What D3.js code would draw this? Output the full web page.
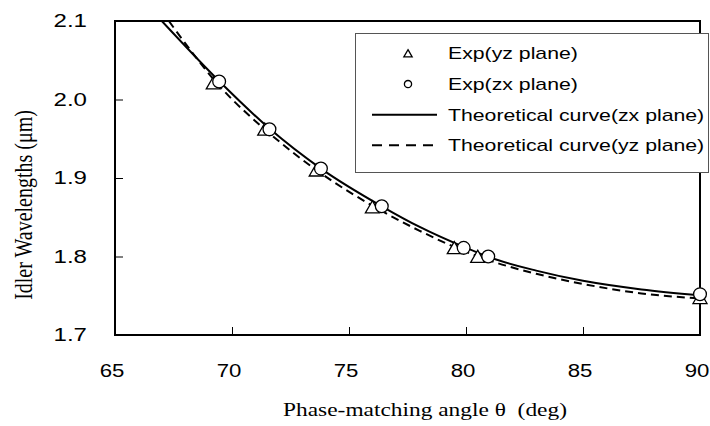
<!DOCTYPE html>
<html>
<head>
<meta charset="utf-8">
<script src="https://cdn.jsdelivr.net/npm/d3@7"></script>
<style>
  body { margin: 0; background: #fff; }
  text { fill: #000; }
</style>
</head>
<body>
<svg width="710" height="426"></svg>
<script>
// measured data (deg, um)
var yzAngle = [69.2, 71.4, 73.6, 76.0, 79.5, 80.5, 90.0];
var yzWave  = [2.020, 1.961, 1.909, 1.862, 1.810, 1.799, 1.7465];
var zxAngle = [69.45, 71.6, 73.8, 76.4, 79.9, 80.95, 90.0];
var zxWave  = [2.023, 1.962, 1.912, 1.864, 1.811, 1.800, 1.752];

// theoretical curves
var zxCurveAngle = [67.0, 69.5, 71.6, 73.8, 76.4, 78.0, 80.0, 81.0, 83.0, 85.0, 87.5, 90.0];
var zxCurveWave  = [2.100, 2.022, 1.963, 1.912, 1.864, 1.838, 1.811, 1.799, 1.782, 1.769, 1.758, 1.7505];
var yzCurveAngle = [67.3, 69.5, 71.6, 73.8, 76.4, 78.0, 80.0, 81.0, 83.0, 85.0, 87.5, 90.0];
var yzCurveWave  = [2.100, 2.016, 1.957, 1.906, 1.858, 1.833, 1.806, 1.795, 1.778, 1.765, 1.753, 1.7465];

var xTicks = [65, 70, 75, 80, 85, 90];
var yTicks = [1.7, 1.8, 1.9, 2.0, 2.1];

var legendItems = [
    {label: "Exp(yz plane)", type: "tri"},
    {label: "Exp(zx plane)", type: "circ"},
    {label: "Theoretical curve(zx plane)", type: "solid"},
    {label: "Theoretical curve(yz plane)", type: "dash"}
];

// the source picture is stretched sideways, text too
var sx = 1.3;
var sans = "Liberation Sans, Arial, sans-serif",
    serif = "Liberation Serif, Times New Roman, serif";

var svg = d3.select("svg"),
    margin = {left: 115, right: 10, top: 21, bottom: 91},
    width = 710 - margin.left - margin.right,
    height = 426 - margin.top - margin.bottom;

var x = d3.scaleLinear().domain([65, 90]).range([margin.left, margin.left + width]);
var y = d3.scaleLinear().domain([1.7, 2.1]).range([margin.top + height, margin.top]);

var g = svg.append("g");

svg.append("defs").append("clipPath").attr("id", "plot")
    .append("rect")
    .attr("x", margin.left).attr("y", margin.top)
    .attr("width", width).attr("height", height);

// axes, inward ticks
var xAxis = d3.axisBottom(x).tickValues(xTicks).tickSizeInner(-8).tickSizeOuter(0).tickPadding(29);
var yAxis = d3.axisLeft(y).tickValues(yTicks).tickSizeInner(-8).tickSizeOuter(0)
    .tickFormat(d3.format(".1f"));

var gx = g.append("g").attr("transform", "translate(0," + (margin.top + height) + ")").call(xAxis);
var gy = g.append("g").attr("transform", "translate(" + margin.left + ",0)").call(yAxis);

[gx, gy].forEach(function (a) {
    a.select(".domain").remove();
    a.selectAll("line").attr("stroke", "#000").attr("stroke-width", 1);
    a.selectAll("text")
        .style("font-family", sans)
        .style("font-size", "18.5px")
        .attr("fill", "#000");
});
gx.selectAll("text").attr("transform", "translate(-3.5,0) scale(1.2,1)");
gy.selectAll("text").attr("x", 0).attr("transform", "translate(-28,0) scale(" + sx + ",1)");

// frame
g.append("rect")
    .attr("x", margin.left).attr("y", margin.top)
    .attr("width", width).attr("height", height)
    .attr("fill", "none").attr("stroke", "#000").attr("stroke-width", 2);

var line = d3.line()
    .x(function (d) { return x(d[0]); })
    .y(function (d) { return y(d[1]); })
    .curve(d3.curveMonotoneX);

var plot = g.append("g").attr("clip-path", "url(#plot)");

plot.append("path")
    .datum(d3.zip(yzCurveAngle, yzCurveWave))
    .attr("d", line)
    .attr("fill", "none").attr("stroke", "#000").attr("stroke-width", 2)
    .attr("stroke-dasharray", "8,5");

plot.append("path")
    .datum(d3.zip(zxCurveAngle, zxCurveWave))
    .attr("d", line)
    .attr("fill", "none").attr("stroke", "#000").attr("stroke-width", 2);

var tri = d3.symbol().type(d3.symbolTriangle).size(85);

g.append("g").selectAll("path")
    .data(d3.zip(yzAngle, yzWave))
    .enter().append("path")
    .attr("d", tri)
    .attr("transform", function (d) { return "translate(" + x(d[0]) + "," + (y(d[1]) + 1) + ")"; })
    .attr("fill", "#fff").attr("stroke", "#000").attr("stroke-width", 1.3);

g.append("g").selectAll("circle")
    .data(d3.zip(zxAngle, zxWave))
    .enter().append("circle")
    .attr("cx", function (d) { return x(d[0]); })
    .attr("cy", function (d) { return y(d[1]); })
    .attr("r", 6.4)
    .attr("fill", "#fff").attr("stroke", "#000").attr("stroke-width", 1.3);

// legend
var lg = svg.append("g");
lg.append("rect")
    .attr("x", 355.5).attr("y", 33.5).attr("width", 353).attr("height", 139)
    .attr("fill", "#fff").attr("stroke", "#555").attr("stroke-width", 1);

var row = lg.selectAll("g.item").data(legendItems).enter().append("g")
    .attr("class", "item")
    .attr("transform", function (d, i) { return "translate(0," + (53.5 + i * 30.6) + ")"; });

row.append("text")
    .attr("transform", "translate(448,0) scale(1.25,1)")
    .attr("dy", "0.35em")
    .style("font-family", sans)
    .style("font-size", "17px")
    .text(function (d) { return d.label; });

row.filter(function (d) { return d.type === "tri"; }).append("path")
    .attr("d", d3.symbol().type(d3.symbolTriangle).size(30))
    .attr("transform", "translate(408,1)")
    .attr("fill", "#fff").attr("stroke", "#000").attr("stroke-width", 1.3);

row.filter(function (d) { return d.type === "circ"; }).append("circle")
    .attr("cx", 408).attr("r", 3.6)
    .attr("fill", "#fff").attr("stroke", "#000").attr("stroke-width", 1.3);

row.filter(function (d) { return d.type === "solid" || d.type === "dash"; }).append("line")
    .attr("x1", 372).attr("x2", 437)
    .attr("stroke", "#000").attr("stroke-width", 2)
    .attr("stroke-dasharray", function (d) { return d.type === "dash" ? "10,7" : null; });

// axis titles
svg.append("text")
    .attr("transform", "translate(425,416) scale(" + sx + ",1)")
    .attr("text-anchor", "middle")
    .attr("xml:space", "preserve")
    .style("font-family", serif)
    .style("font-size", "18px")
    .text("Phase-matching angle \u03b8  (deg)");

svg.append("text")
    .attr("transform", "translate(32,205) rotate(-90) scale(1," + sx + ")")
    .attr("text-anchor", "middle")
    .style("font-family", serif)
    .style("font-size", "20px")
    .text("Idler Wavelengths (\u03bcm)");
</script>
</body>
</html>
